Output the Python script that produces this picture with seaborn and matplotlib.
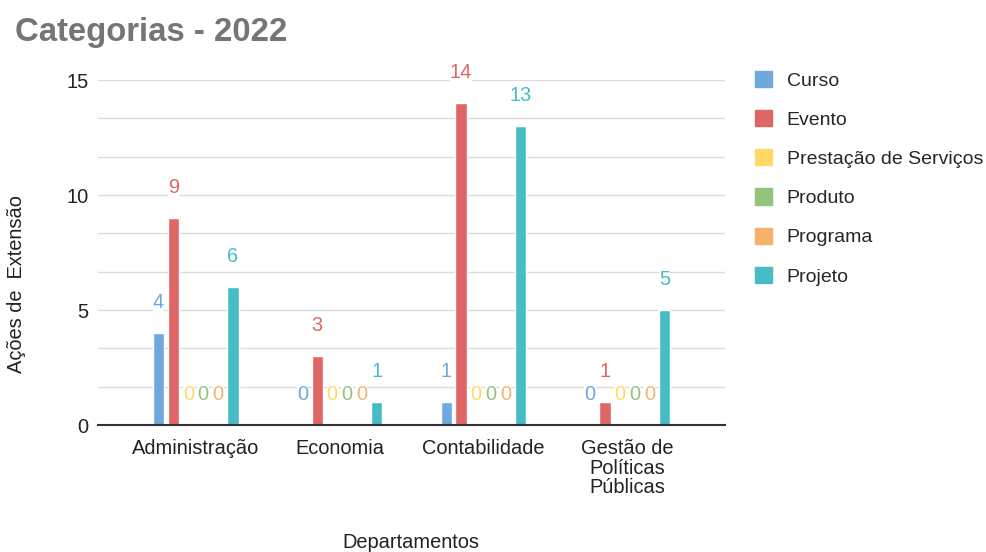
import numpy as np
import pandas as pd
import matplotlib.pyplot as plt
import seaborn as sns
from matplotlib.patches import Patch

# ── Data ──────────────────────────────────────────────
departamentos = ["Administração", "Economia", "Contabilidade",
                 "Gestão de\nPolíticas\nPúblicas"]
categorias = ["Curso", "Evento", "Prestação de Serviços",
              "Produto", "Programa", "Projeto"]
curso     = [4, 0, 1, 0]
evento    = [9, 3, 14, 1]
prestacao = [0, 0, 0, 0]
produto   = [0, 0, 0, 0]
programa  = [0, 0, 0, 0]
projeto   = [6, 1, 13, 5]

cores = ["#6fa8dc", "#e06666", "#ffd966", "#93c47d", "#f6b26b", "#46bdc6"]

series = [curso, evento, prestacao, produto, programa, projeto]
rows = []
for cat, vals in zip(categorias, series):
    for dep, v in zip(departamentos, vals):
        rows.append({"Departamento": dep, "Categoria": cat, "Valor": v})
df = pd.DataFrame(rows)

# ── Plot ──────────────────────────────────────────────
sns.set_style("white")
plt.rcParams["font.family"] = ["Liberation Sans", "DejaVu Sans"]
fs = 14.4

fig = plt.figure(figsize=(9.87, 5.52), dpi=100)
ax = fig.add_axes([0.0993, 0.230, 0.6352, 0.625])

sns.barplot(data=df, x="Departamento", y="Valor", hue="Categoria",
            order=departamentos, hue_order=categorias, palette=cores,
            saturation=1, width=0.621, gap=0.24, errorbar=None,
            legend=False, ax=ax)

for cont, cor in zip(ax.containers, cores):
    ax.bar_label(cont, padding=15, color=cor, fontsize=fs,
                 bbox=dict(facecolor="white", edgecolor="none", pad=0))

ax.set_ylim(0, 15)
ax.set_xlim(-0.68, 3.68)
ax.set_yticks([0, 5, 10, 15])
ax.set_yticks(np.arange(0, 15.01, 5 / 3), minor=True)
ax.grid(axis="y", which="both", color="#dcdcdc", linewidth=1)
ax.set_axisbelow(True)
ax.tick_params(axis="both", which="both", length=0, labelsize=fs,
               colors="#222222")
ax.tick_params(axis="y", pad=7)
ax.tick_params(axis="x", pad=10)
for lbl in ax.get_xticklabels():
    lbl.set_linespacing(1.05)
for s in ["top", "right", "left"]:
    ax.spines[s].set_visible(False)
ax.spines["bottom"].set_color("#333333")
ax.spines["bottom"].set_linewidth(1.5)
ax.set_xlabel("")
ax.set_ylabel("")

fig.text(17 / 987, 1 - 284 / 552, "Ações de  Extensão", rotation=90,
         ha="center", va="center", fontsize=fs, color="#222222")
fig.text(411 / 987, 1 - 543 / 552, "Departamentos", ha="center",
         va="center", fontsize=fs, color="#222222")
fig.text(15 / 987, 1 - 32 / 552, "Categorias - 2022", ha="left",
         va="center", fontsize=23.7, fontweight="bold", color="#757575")

handles = [Patch(facecolor=c, edgecolor=c) for c in cores]
ax.legend(handles, categorias, loc="upper left",
          bbox_to_anchor=(747 / 987, 1 - 63 / 552),
          bbox_transform=fig.transFigure, frameon=False,
          fontsize=14, handlelength=0.9, handleheight=0.9,
          handletextpad=0.75, labelspacing=1.05, borderaxespad=0)

fig.savefig("out.png", dpi=100)
